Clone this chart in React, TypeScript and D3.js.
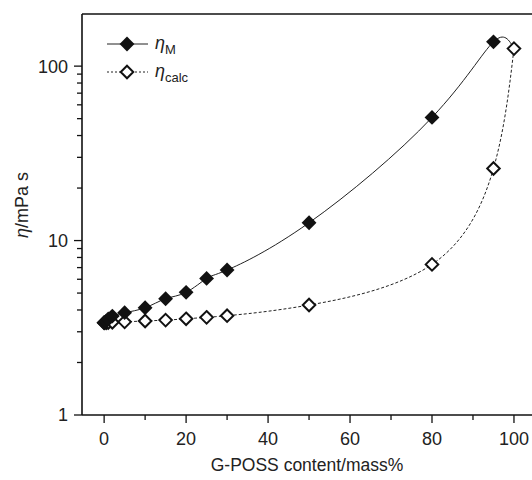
import React, { useEffect, useRef } from 'react';
import * as d3 from 'd3';

// G-POSS content (mass%) of the samples
const content = [0, 0.5, 1, 2, 5, 10, 15, 20, 25, 30, 50, 80, 95];
// measured viscosity, mPa s
const etaM = [3.38, 3.45, 3.55, 3.69, 3.86, 4.12, 4.64, 5.05, 6.07, 6.78, 12.65, 50.8, 137.8];
// calculated viscosity, mPa s (includes the pure G-POSS at 100%)
const contentCalc = [0, 0.5, 1, 2, 5, 10, 15, 20, 25, 30, 50, 80, 95, 100];
const etaCalc = [3.38, 3.38, 3.39, 3.4, 3.42, 3.46, 3.5, 3.56, 3.63, 3.71, 4.27, 7.3, 25.9, 126];

const xMajor = [0, 20, 40, 60, 80, 100];
const xMinor = [10, 30, 50, 70, 90];
const yMajor = [1, 10, 100];
const yMinor = [2, 3, 4, 5, 6, 7, 8, 9, 20, 30, 40, 50, 60, 70, 80, 90];

const FONT = '"Liberation Sans", Arial, Helvetica, sans-serif';

const App = () => {
    const ref = useRef<SVGSVGElement>(null);

    useEffect(() => {
        const svg = d3.select(ref.current);
        svg.selectAll('*').remove();

        const left = 82, top = 14, bottom = 415;

        const x = d3.scaleLinear().domain([-5.4, 104.4]).range([left, 532]);
        const y = d3.scaleLog().domain([1, 199]).range([bottom, top]);

        const g = svg.append('g');

        //Frame lines: left, top and bottom (no right line)
        g.append('line').attr('x1', left).attr('x2', left).attr('y1', top).attr('y2', bottom)
            .attr('stroke', '#111').attr('stroke-width', 1.6);
        g.append('line').attr('x1', left).attr('x2', 540).attr('y1', top).attr('y2', top)
            .attr('stroke', '#111').attr('stroke-width', 1.6);
        g.append('line').attr('x1', left).attr('x2', 540).attr('y1', bottom).attr('y2', bottom)
            .attr('stroke', '#111').attr('stroke-width', 1.6);

        //X ticks
        g.selectAll('.xmaj').data(xMajor).enter().append('line')
            .attr('x1', d => x(d)).attr('x2', d => x(d))
            .attr('y1', bottom).attr('y2', bottom + 8)
            .attr('stroke', '#111').attr('stroke-width', 1.3);
        g.selectAll('.xmin').data(xMinor).enter().append('line')
            .attr('x1', d => x(d)).attr('x2', d => x(d))
            .attr('y1', bottom).attr('y2', bottom + 5)
            .attr('stroke', '#111').attr('stroke-width', 1.3);
        g.selectAll('.xlab').data(xMajor).enter().append('text')
            .attr('x', d => x(d)).attr('y', bottom + 30)
            .attr('text-anchor', 'middle')
            .style('font-family', FONT).style('font-size', '18px').attr('fill', '#222')
            .text(d => d);

        //Y ticks
        g.selectAll('.ymaj').data(yMajor).enter().append('line')
            .attr('x1', left - 8).attr('x2', left)
            .attr('y1', d => y(d)).attr('y2', d => y(d))
            .attr('stroke', '#111').attr('stroke-width', 1.3);
        g.selectAll('.ymin').data(yMinor).enter().append('line')
            .attr('x1', left - 5).attr('x2', left)
            .attr('y1', d => y(d)).attr('y2', d => y(d))
            .attr('stroke', '#111').attr('stroke-width', 1.3);
        g.selectAll('.ylab').data(yMajor).enter().append('text')
            .attr('x', left - 14).attr('y', d => y(d)).attr('dy', '0.36em')
            .attr('text-anchor', 'end')
            .style('font-family', FONT).style('font-size', '18px').attr('fill', '#222')
            .text(d => d);

        //Axis titles
        g.append('text')
            .attr('x', 307).attr('y', 471)
            .attr('text-anchor', 'middle')
            .style('font-family', FONT).style('font-size', '17.5px').attr('fill', '#222')
            .text('G-POSS content/mass%');
        const yt = g.append('text')
            .attr('transform', 'translate(28,205) rotate(-90)')
            .attr('text-anchor', 'middle')
            .style('font-family', FONT).style('font-size', '18px').attr('fill', '#222');
        yt.append('tspan').style('font-style', 'italic').text('η');
        yt.append('tspan').text('/mPa s');

        //Fitted curves
        const line = d3.line<[number, number]>()
            .x(d => x(d[0])).y(d => y(d[1]))
            .curve(d3.curveNatural);

        const mPts: [number, number][] = content.map((c, i) => [c, etaM[i]]);
        mPts.push([contentCalc[contentCalc.length - 1], etaCalc[etaCalc.length - 1]]);
        const cPts: [number, number][] = contentCalc.map((c, i) => [c, etaCalc[i]]);

        g.append('path').attr('d', line(mPts))
            .attr('fill', 'none').attr('stroke', '#222').attr('stroke-width', 1);
        g.append('path').attr('d', line(cPts))
            .attr('fill', 'none').attr('stroke', '#222').attr('stroke-width', 1)
            .attr('stroke-dasharray', '3,2');

        //Markers
        const diamond = d3.symbol().type(d3.symbolDiamond2).size(140);
        const open = d3.symbol().type(d3.symbolDiamond2).size(100);

        g.selectAll('.mc').data(cPts).enter().append('path')
            .attr('d', open)
            .attr('transform', d => `translate(${x(d[0])},${y(d[1])})`)
            .attr('fill', '#fff').attr('stroke', '#111').attr('stroke-width', 2);
        g.selectAll('.mm').data(content.map((c, i) => [c, etaM[i]])).enter().append('path')
            .attr('d', diamond)
            .attr('transform', d => `translate(${x(d[0])},${y(d[1])})`)
            .attr('fill', '#111');

        //LEGEND
        g.append('line').attr('x1', 107).attr('x2', 148).attr('y1', 44).attr('y2', 44)
            .attr('stroke', '#222').attr('stroke-width', 1);
        g.append('path').attr('d', diamond).attr('transform', 'translate(127,44)').attr('fill', '#111');
        g.append('line').attr('x1', 107).attr('x2', 148).attr('y1', 72).attr('y2', 72)
            .attr('stroke', '#222').attr('stroke-width', 1).attr('stroke-dasharray', '2,2');
        g.append('path').attr('d', open).attr('transform', 'translate(127,72)')
            .attr('fill', '#fff').attr('stroke', '#111').attr('stroke-width', 2);

        const l1 = g.append('text').attr('x', 155).attr('y', 49)
            .style('font-family', FONT).style('font-size', '18px').attr('fill', '#222');
        l1.append('tspan').style('font-style', 'italic').text('η');
        l1.append('tspan').attr('dy', 5).style('font-size', '13px').text('M');
        const l2 = g.append('text').attr('x', 155).attr('y', 77)
            .style('font-family', FONT).style('font-size', '18px').attr('fill', '#222');
        l2.append('tspan').style('font-style', 'italic').text('η');
        l2.append('tspan').attr('dy', 5).style('font-size', '13px').text('calc');
    }, []);

    return (
        <div style={{ position: 'absolute', left: 0, top: 0 }}>
            <svg ref={ref} width={532} height={480} style={{ display: 'block', background: '#fff' }} />
        </div>
    );
};

export default App;
